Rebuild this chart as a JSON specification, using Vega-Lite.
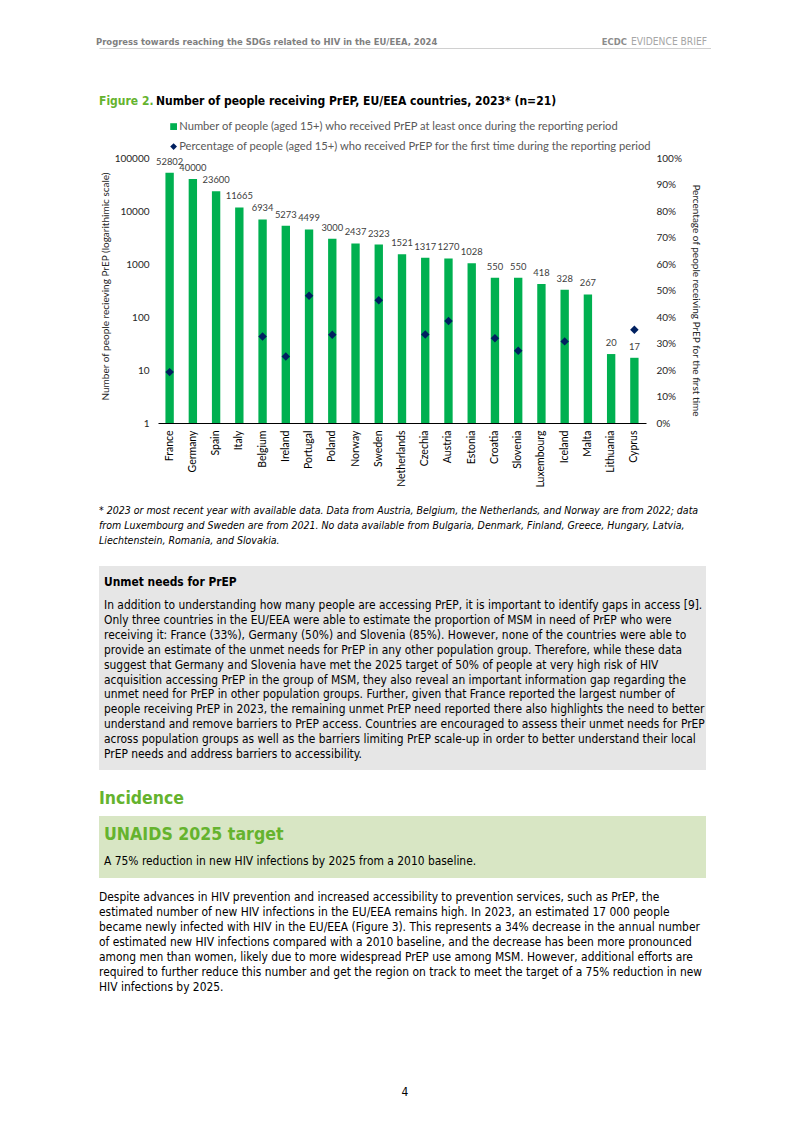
{
"$schema": "https://vega.github.io/schema/vega-lite/v6.json",
"background": "white",
"padding": {"left": 96, "top": 36, "right": 0, "bottom": 0},
"bounds": "flush",
"spacing": 0,
"config": {"view": {"stroke": null}},
"datasets": {
"header": [
{"k": "title", "side": "left", "t": "Progress towards reaching the SDGs related to HIV in the EU/EEA, 2024"},
{"k": "brief", "side": "right", "t": "EVIDENCE BRIEF"},
{"k": "ecdc", "side": "right", "t": "ECDC"}
],
"figtitle": [
{"k": "fig", "b": "t", "t": "Figure 2."},
{"k": "title", "b": "t", "t": "Number of people receiving PrEP, EU/EEA countries, 2023* (n=21)"}
],
"prep": [
{"country": "France", "n": 52802, "pct": 0.192},
{"country": "Germany", "n": 40000, "pct": null},
{"country": "Spain", "n": 23600, "pct": null},
{"country": "Italy", "n": 11665, "pct": null},
{"country": "Belgium", "n": 6934, "pct": 0.326},
{"country": "Ireland", "n": 5273, "pct": 0.251},
{"country": "Portugal", "n": 4499, "pct": 0.48},
{"country": "Poland", "n": 3000, "pct": 0.333},
{"country": "Norway", "n": 2437, "pct": null},
{"country": "Sweden", "n": 2323, "pct": 0.463},
{"country": "Netherlands", "n": 1521, "pct": null},
{"country": "Czechia", "n": 1317, "pct": 0.334},
{"country": "Austria", "n": 1270, "pct": 0.385},
{"country": "Estonia", "n": 1028, "pct": null},
{"country": "Croatia", "n": 550, "pct": 0.32},
{"country": "Slovenia", "n": 550, "pct": 0.273},
{"country": "Luxembourg", "n": 418, "pct": null},
{"country": "Iceland", "n": 328, "pct": 0.308},
{"country": "Malta", "n": 267, "pct": null},
{"country": "Lithuania", "n": 20, "pct": null},
{"country": "Cyprus", "n": 17, "pct": 0.352}
],
"footnote": [
{"b": "f", "i": 1, "t": "* 2023 or most recent year with available data. Data from Austria, Belgium, the Netherlands, and Norway are from 2022; data"},
{"b": "f", "i": 2, "t": "from Luxembourg and Sweden are from 2021. No data available from Bulgaria, Denmark, Finland, Greece, Hungary, Latvia,"},
{"b": "f", "i": 3, "t": "Liechtenstein, Romania, and Slovakia."}
],
"unmet": [
{"b": "u", "i": 1, "t": "In addition to understanding how many people are accessing PrEP, it is important to identify gaps in access [9]."},
{"b": "u", "i": 2, "t": "Only three countries in the EU/EEA were able to estimate the proportion of MSM in need of PrEP who were"},
{"b": "u", "i": 3, "t": "receiving it: France (33%), Germany (50%) and Slovenia (85%).  However, none of the countries were able to"},
{"b": "u", "i": 4, "t": "provide an estimate of the unmet needs for PrEP in any other population group. Therefore, while these data"},
{"b": "u", "i": 5, "t": "suggest that Germany and Slovenia have met the 2025 target of 50% of people at very high risk of HIV"},
{"b": "u", "i": 6, "t": "acquisition accessing PrEP in the group of MSM, they also reveal an important information gap regarding the"},
{"b": "u", "i": 7, "t": "unmet need for PrEP in other population groups. Further, given that France reported the largest number of"},
{"b": "u", "i": 8, "t": "people receiving PrEP in 2023, the remaining unmet PrEP need reported there also highlights the need to better"},
{"b": "u", "i": 9, "t": "understand and remove barriers to PrEP access. Countries are encouraged to assess their unmet needs for PrEP"},
{"b": "u", "i": 10, "t": "across population groups as well as the barriers limiting PrEP scale-up in order to better understand their local"},
{"b": "u", "i": 11, "t": "PrEP needs and address barriers to accessibility."}
],
"body": [
{"b": "p", "i": 1, "t": "Despite advances in HIV prevention and increased accessibility to prevention services, such as PrEP, the"},
{"b": "p", "i": 2, "t": "estimated number of new HIV infections in the EU/EEA remains high. In 2023, an estimated 17 000 people"},
{"b": "p", "i": 3, "t": "became newly infected with HIV in the EU/EEA (Figure 3). This represents a 34% decrease in the annual number"},
{"b": "p", "i": 4, "t": "of estimated new HIV infections compared with a 2010 baseline, and the decrease has been more pronounced"},
{"b": "p", "i": 5, "t": "among men than women, likely due to more widespread PrEP use among MSM. However, additional efforts are"},
{"b": "p", "i": 6, "t": "required to further reduce this number and get the region on track to meet the target of a 75% reduction in new"},
{"b": "p", "i": 7, "t": "HIV infections by 2025."}
]
},
"vconcat": [
{
"width": 612, "height": 12,
"data": {"name": "header"},
"encoding": {
"x": {"field": "side", "type": "nominal", "scale": {"type": "point", "padding": 0, "domain": ["left", "right"]}, "axis": {"labels": false, "ticks": false, "title": null, "domain": true, "domainColor": "#d0d0d0", "domainWidth": 1}},
"text": {"field": "t"}
},
"layer": [
{"transform": [{"filter": "datum.k == 'title'"}], "mark": {"type": "text", "align": "left", "baseline": "middle", "font": "DejaVu Sans Condensed", "fontSize": 9.4, "fontWeight": "bold", "color": "#7f7f7f", "dx": -3}},
{"transform": [{"filter": "datum.k == 'brief'"}], "mark": {"type": "text", "align": "right", "baseline": "middle", "font": "DejaVu Sans Condensed", "fontSize": 10.2, "fontWeight": "normal", "color": "#a6a6a6", "dx": -4}},
{"transform": [{"filter": "datum.k == 'ecdc'"}], "mark": {"type": "text", "align": "right", "baseline": "middle", "font": "DejaVu Sans Condensed", "fontSize": 9.4, "fontWeight": "bold", "color": "#8c8c8c", "dx": -84}}
]
},
{
"width": 612, "height": 106,
"data": {"name": "figtitle"},
"encoding": {
"x": {"field": "b", "type": "nominal", "scale": {"type": "point", "padding": 0, "align": 0}, "axis": null},
"text": {"field": "t"}
},
"layer": [
{"transform": [{"filter": "datum.k == 'fig'"}], "mark": {"type": "text", "align": "left", "baseline": "middle", "font": "DejaVu Sans Condensed", "fontSize": 12, "fontWeight": "bold", "color": "#65b32e"}},
{"transform": [{"filter": "datum.k == 'title'"}], "mark": {"type": "text", "align": "left", "baseline": "middle", "font": "DejaVu Sans Condensed", "fontSize": 12, "fontWeight": "bold", "color": "#000000", "dx": 57}}
]
},
{"width": 10, "height": 4, "data": {"values": []}, "mark": "text"},
{
"hconcat": [
{"width": 59, "height": 10, "data": {"values": []}, "mark": "text"},
{
"width": 488, "height": 265,
"data": {"name": "prep"},
"encoding": {
"x": {"field": "country", "type": "nominal", "sort": null, "scale": {"paddingInner": 0.64, "paddingOuter": 0.32}, "axis": {"labelAngle": -90, "ticks": false, "domainColor": "#000000", "domainWidth": 1, "labelPadding": 7, "title": null, "labelFont": "Lato", "labelFontSize": 10.5, "labelColor": "#000000"}}
},
"layer": [
{
"encoding": {
"y": {"field": "n", "type": "quantitative", "scale": {"type": "log", "domain": [1, 100000], "nice": false}, "axis": {"values": [1, 10, 100, 1000, 10000, 100000], "format": "d", "ticks": false, "domain": false, "grid": false, "labelFont": "Lato", "labelFontSize": 10, "labelColor": "#262626", "labelPadding": 9, "title": "Number of people recieving PrEP (logarithimic scale)", "titleFont": "Lato", "titleFontSize": 10, "titleFontWeight": "normal", "titleColor": "#262626", "titlePadding": 4, "titleY": 128}}
},
"layer": [
{
"mark": {"type": "bar"},
"encoding": {
"y2": {"datum": 1},
"color": {"datum": "Number of people (aged 15+) who received PrEP at least once during the reporting period", "type": "nominal", "scale": {"domain": ["Number of people (aged 15+) who received PrEP at least once during the reporting period", "Percentage of people (aged 15+) who received PrEP for the first time during the reporting period"], "range": ["#00b050", "#002060"]}, "legend": {"orient": "none", "legendX": 69, "legendY": 85, "direction": "vertical", "title": null, "labelFont": "Lato", "labelFontSize": 11.2, "labelColor": "#595959", "labelLimit": 700, "symbolSize": 46, "rowPadding": 8, "labelOffset": 0, "padding": 0}}
}
},
{
"mark": {"type": "text", "baseline": "bottom", "dy": -6, "font": "Lato", "fontSize": 9.4, "color": "#404040"},
"encoding": {"text": {"field": "n", "type": "quantitative", "format": "d"}}
}
]
},
{
"mark": {"type": "point", "filled": true, "size": 72, "opacity": 1},
"encoding": {
"y": {"field": "pct", "type": "quantitative", "scale": {"domain": [0, 1], "nice": false}, "axis": {"orient": "right", "values": [0, 0.1, 0.2, 0.3, 0.4, 0.5, 0.6, 0.7, 0.8, 0.9, 1], "format": ".0%", "ticks": false, "domain": false, "grid": false, "labelFont": "Lato", "labelFontSize": 10, "labelColor": "#262626", "labelPadding": 10, "title": "Percentage of people receiving PrEP for the first time", "titleFont": "Lato", "titleFontSize": 10, "titleFontWeight": "normal", "titleColor": "#262626", "titlePadding": 9, "titleY": 142}},
"color": {"datum": "Percentage of people (aged 15+) who received PrEP for the first time during the reporting period", "type": "nominal"},
"shape": {"datum": "Percentage of people (aged 15+) who received PrEP for the first time during the reporting period", "type": "nominal", "scale": {"domain": ["Number of people (aged 15+) who received PrEP at least once during the reporting period", "Percentage of people (aged 15+) who received PrEP for the first time during the reporting period"], "range": ["square", "diamond"]}, "legend": {"orient": "none", "legendX": 69, "legendY": 85, "direction": "vertical", "title": null, "labelFont": "Lato", "labelFontSize": 11.2, "labelColor": "#595959", "labelLimit": 700, "symbolSize": 46, "rowPadding": 8, "labelOffset": 0, "padding": 0}}
}
}
],
"resolve": {"scale": {"y": "independent"}}
}
],
"spacing": 0,
"bounds": "flush"
},
{"width": 10, "height": 345, "data": {"values": []}, "mark": "text"},
{
"width": 612, "height": 45,
"data": {"name": "footnote"},
"mark": {"type": "text", "align": "left", "baseline": "middle", "font": "DejaVu Sans Condensed", "fontSize": 10.5, "fontStyle": "italic", "color": "#000000"},
"encoding": {
"x": {"field": "b", "type": "nominal", "scale": {"type": "point", "padding": 0, "align": 0}, "axis": null},
"y": {"field": "i", "type": "ordinal", "scale": {"type": "point", "padding": 0.5}, "axis": null},
"text": {"field": "t"}
}
},
{"width": 10, "height": 18, "data": {"values": []}, "mark": "text"},
{
"width": 607, "height": 32,
"view": {"fill": "#e6e6e6", "stroke": null},
"data": {"values": [{"b": "u", "t": "Unmet needs for PrEP"}]},
"mark": {"type": "text", "align": "left", "baseline": "middle", "font": "DejaVu Sans Condensed", "fontSize": 11.9, "fontWeight": "bold", "color": "#000000", "dx": 5},
"encoding": {
"x": {"field": "b", "type": "nominal", "scale": {"type": "point", "padding": 0, "align": 0}, "axis": null},
"text": {"field": "t"}
}
},
{
"width": 607, "height": 163,
"view": {"fill": "#e6e6e6", "stroke": null},
"data": {"name": "unmet"},
"mark": {"type": "text", "align": "left", "baseline": "middle", "font": "DejaVu Sans Condensed", "fontSize": 11.9, "color": "#000000", "dx": 5},
"encoding": {
"x": {"field": "b", "type": "nominal", "scale": {"type": "point", "padding": 0, "align": 0}, "axis": null},
"y": {"field": "i", "type": "ordinal", "scale": {"type": "point", "padding": 0.5}, "axis": null},
"text": {"field": "t"}
}
},
{"width": 607, "height": 9, "view": {"fill": "#e6e6e6", "stroke": null}, "data": {"values": []}, "mark": "text"},
{"width": 10, "height": 12, "data": {"values": []}, "mark": "text"},
{
"width": 612, "height": 34,
"data": {"values": [{"b": "i", "t": "Incidence"}]},
"mark": {"type": "text", "align": "left", "baseline": "middle", "font": "DejaVu Sans Condensed", "fontSize": 17.5, "fontWeight": "bold", "color": "#65b32e"},
"encoding": {
"x": {"field": "b", "type": "nominal", "scale": {"type": "point", "padding": 0, "align": 0}, "axis": null},
"text": {"field": "t"}
}
},
{
"width": 607, "height": 38,
"view": {"fill": "#d8e6c4", "stroke": null},
"data": {"values": [{"b": "g", "t": "UNAIDS 2025 target"}]},
"mark": {"type": "text", "align": "left", "baseline": "middle", "font": "DejaVu Sans Condensed", "fontSize": 17.6, "fontWeight": "bold", "color": "#65b32e", "dx": 5},
"encoding": {
"x": {"field": "b", "type": "nominal", "scale": {"type": "point", "padding": 0, "align": 0}, "axis": null},
"text": {"field": "t"}
}
},
{
"width": 607, "height": 14,
"view": {"fill": "#d8e6c4", "stroke": null},
"data": {"values": [{"b": "g", "t": "A 75% reduction in new HIV infections by 2025 from a 2010 baseline."}]},
"mark": {"type": "text", "align": "left", "baseline": "middle", "font": "DejaVu Sans Condensed", "fontSize": 11.9, "color": "#000000", "dx": 5},
"encoding": {
"x": {"field": "b", "type": "nominal", "scale": {"type": "point", "padding": 0, "align": 0}, "axis": null},
"text": {"field": "t"}
}
},
{"width": 607, "height": 10, "view": {"fill": "#d8e6c4", "stroke": null}, "data": {"values": []}, "mark": "text"},
{"width": 10, "height": 12, "data": {"values": []}, "mark": "text"},
{
"width": 612, "height": 104,
"data": {"name": "body"},
"mark": {"type": "text", "align": "left", "baseline": "middle", "font": "DejaVu Sans Condensed", "fontSize": 11.9, "color": "#000000"},
"encoding": {
"x": {"field": "b", "type": "nominal", "scale": {"type": "point", "padding": 0, "align": 0}, "axis": null},
"y": {"field": "i", "type": "ordinal", "scale": {"type": "point", "padding": 0.5}, "axis": null},
"text": {"field": "t"}
}
},
{"width": 10, "height": 91, "data": {"values": []}, "mark": "text"},
{
"width": 612, "height": 14,
"data": {"values": [{"t": "4"}]},
"mark": {"type": "text", "align": "center", "baseline": "middle", "font": "DejaVu Sans Condensed", "fontSize": 11.9, "color": "#000000"},
"encoding": {"text": {"field": "t"}}
}
]
}
